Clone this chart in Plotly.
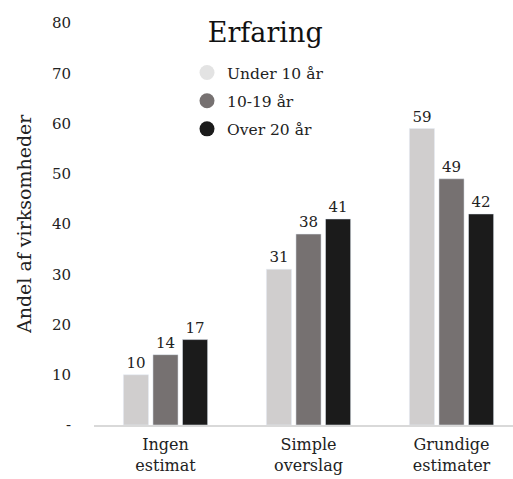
import plotly.graph_objects as go

categories = ["Ingen<br>estimat", "Simple<br>overslag", "Grundige<br>estimater"]
series_names = ["Under 10 år", "10-19 år", "Over 20 år"]
under10 = [10, 31, 59]
mid10_19 = [14, 38, 49]
over20 = [17, 41, 42]
colors = ["#d0cece", "#767171", "#1b1b1b"]
legend_colors = ["#e3e3e3", "#767171", "#1b1b1b"]
tick_vals = [0, 10, 20, 30, 40, 50, 60, 70, 80]
tick_text = ["-", "10", "20", "30", "40", "50", "60", "70", "80"]
y_title = "Andel af virksomheder"

FONT = "DejaVu Serif, Liberation Serif, serif"

fig = go.Figure()
for name, vals, c in zip(series_names, [under10, mid10_19, over20], colors):
    fig.add_trace(go.Bar(
        x=categories, y=vals, name=name, marker_color=c, showlegend=False,
        text=[str(v) for v in vals], textposition="outside",
        textfont=dict(size=15, color="#222222", family=FONT),
        cliponaxis=False,
    ))
for name, c in zip(series_names, legend_colors):
    fig.add_trace(go.Scatter(
        x=[None], y=[None], mode="markers", name=name, legendgroup=name,
        marker=dict(symbol="circle", size=15, color=c),
    ))

fig.update_layout(
    width=513, height=479,
    margin=dict(l=94, r=0, t=23, b=54),
    paper_bgcolor="white", plot_bgcolor="white",
    font=dict(family=FONT, size=15, color="#222222"),
    title=dict(text="Erfaring", x=0.517, xanchor="center", y=0.933, yanchor="middle",
               font=dict(size=27, family=FONT, color="#111111")),
    barmode="group", bargap=0.38, bargroupgap=0.15,
    legend=dict(x=0.222, y=0.918, xanchor="left", yanchor="top",
                font=dict(size=15.5, family=FONT), bgcolor="rgba(0,0,0,0)",
                tracegroupgap=5, itemwidth=30),
    xaxis=dict(range=[-0.5, 2.43], showline=True, linecolor="#d9d9d9", linewidth=2,
               ticks="", showgrid=False, tickfont=dict(size=16), ticklabelstandoff=4),
    yaxis=dict(range=[0, 80], tickvals=tick_vals, ticktext=tick_text, showgrid=False,
               zeroline=False, showline=False, ticks="", tickfont=dict(size=15),
               ticklabelstandoff=22),
    annotations=[dict(text=y_title, textangle=-90, xref="paper", yref="paper",
                      x=-0.167, y=0.5, xanchor="center", yanchor="middle",
                      showarrow=False, font=dict(size=19, family=FONT, color="#222222"))],
)
fig.write_html("out.html")
